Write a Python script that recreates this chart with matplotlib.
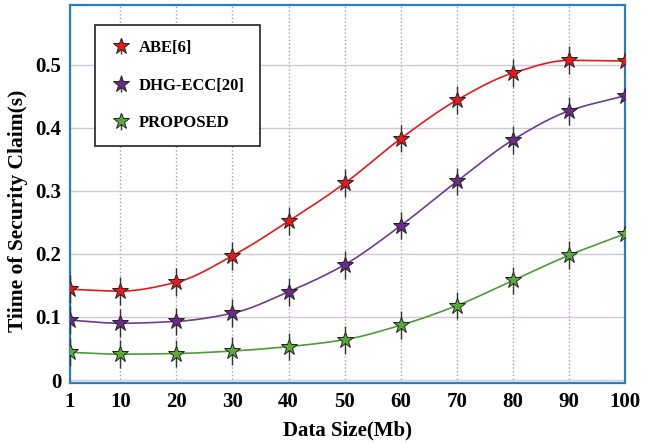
import numpy as np
import matplotlib
matplotlib.use("Agg")
import matplotlib.pyplot as plt

x = [1, 10, 20, 30, 40, 50, 60, 70, 80, 90, 100]
abe = [0.144, 0.141, 0.155, 0.197, 0.252, 0.312, 0.383, 0.444, 0.487, 0.507, 0.506]
dhg = [0.095, 0.090, 0.093, 0.106, 0.140, 0.183, 0.245, 0.315, 0.381, 0.427, 0.451]
prop = [0.044, 0.041, 0.042, 0.046, 0.053, 0.064, 0.087, 0.118, 0.158, 0.198, 0.232]
err = 0.022
labels = ["ABE[6]", "DHG-ECC[20]", "PROPOSED"]
line_colors = ["#e8191c", "#6a3d8f", "#4f9a3c"]
marker_colors = ["#e8191c", "#6b2a8c", "#5aaa38"]
xticks = [1, 10, 20, 30, 40, 50, 60, 70, 80, 90, 100]
yticks = [0, 0.1, 0.2, 0.3, 0.4, 0.5]


def pchip(xs, ys, xq):
    xs = np.asarray(xs, float); ys = np.asarray(ys, float)
    h = np.diff(xs); d = np.diff(ys) / h
    m = np.zeros_like(ys)
    for k in range(1, len(xs) - 1):
        if d[k - 1] * d[k] > 0:
            w1 = 2 * h[k] + h[k - 1]; w2 = h[k] + 2 * h[k - 1]
            m[k] = (w1 + w2) / (w1 / d[k - 1] + w2 / d[k])
    m[0] = d[0]; m[-1] = d[-1]
    idx = np.clip(np.searchsorted(xs, xq) - 1, 0, len(xs) - 2)
    t = (xq - xs[idx]) / h[idx]
    h00 = 2 * t**3 - 3 * t**2 + 1; h10 = t**3 - 2 * t**2 + t
    h01 = -2 * t**3 + 3 * t**2; h11 = t**3 - t**2
    return h00 * ys[idx] + h10 * h[idx] * m[idx] + h01 * ys[idx + 1] + h11 * h[idx] * m[idx + 1]


plt.rcParams['font.family'] = ['Liberation Serif', 'DejaVu Serif']
plt.rcParams['font.weight'] = 'bold'

fig = plt.figure(figsize=(6.52, 4.44), dpi=100)
ax = fig.add_axes([0.107, 0.137, 0.852, 0.852])

xs_fine = np.linspace(1, 100, 400)
for ys, lab, lc, mc in zip([abe, dhg, prop], labels, line_colors, marker_colors):
    ax.plot(xs_fine, pchip(x, ys, xs_fine), color=lc, lw=1.2, zorder=2)
    ax.errorbar(x, ys, yerr=err, fmt='*', ms=12, mfc=mc, mec='#222222', mew=0.7,
                ecolor='#333333', elinewidth=1.0, capsize=0, label=lab, zorder=3)

ax.set_xlim(1, 100)
ax.set_ylim(-0.005, 0.595)
ax.set_xticks(xticks)
ax.set_yticks(yticks)
ax.set_yticklabels(["0", "0.1", "0.2", "0.3", "0.4", "0.5"])
ax.tick_params(length=0, labelsize=15, pad=6)
for lab in ax.get_xticklabels() + ax.get_yticklabels():
    lab.set_fontweight('bold')
ax.xaxis.grid(True, color='#a898b8', ls=':', lw=1.0)
ax.yaxis.grid(True, color='#d0c8da', ls='-', lw=1.0)
ax.set_axisbelow(True)
for s in ax.spines.values():
    s.set_color('#2a7fc4'); s.set_linewidth(1.6)

ax.set_xlabel("Data Size(Mb)", fontsize=15, fontweight='bold')
ax.xaxis.set_label_coords(0.5, -0.098)
ax.set_ylabel("Tiime of Security Claim(s)", fontsize=15.5, fontweight='bold')
ax.yaxis.set_label_coords(-0.075, 0.455)

leg = ax.legend(loc='upper left', bbox_to_anchor=(0.045, 0.947), borderaxespad=0,
                fontsize=12, labelspacing=1.3, handlelength=1.4, handletextpad=0.35,
                borderpad=0.9, fancybox=False, framealpha=1, edgecolor='#222222')
leg.get_frame().set_linewidth(1.2)
for t in leg.get_texts():
    t.set_fontweight('bold')

fig.savefig("out.png", dpi=100)
